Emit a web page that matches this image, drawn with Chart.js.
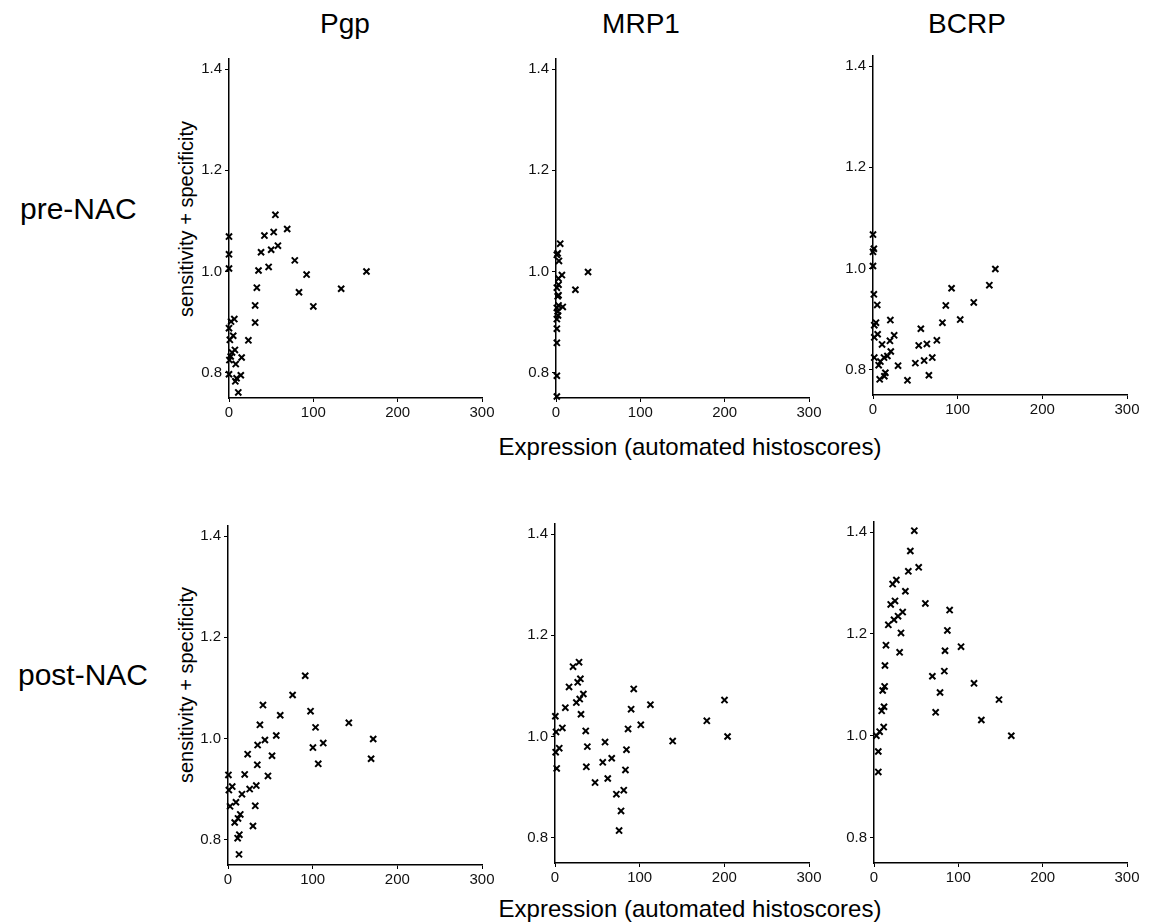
<!DOCTYPE html>
<html>
<head>
<meta charset="utf-8">
<title>Transporter expression vs sensitivity + specificity</title>
<script src="https://cdn.jsdelivr.net/npm/chart.js"></script>
<style>
  body { margin: 0; background: #fff; }
  #page { position: relative; width: 1156px; height: 924px; overflow: hidden;
          font-family: 'Liberation Sans', Arial, sans-serif; color: #000; }
  .txt { position: absolute; white-space: nowrap; line-height: 1; }
  .ctr { transform: translateX(-50%); }
  .rot { transform: translate(-50%, -50%) rotate(-90deg); }
  canvas { position: absolute; }
</style>
</head>
<body>
<div id="page">
  <div class="txt ctr" style="left:345px;top:10px;font-size:28px">Pgp</div>
  <div class="txt ctr" style="left:641px;top:10px;font-size:28px">MRP1</div>
  <div class="txt ctr" style="left:967px;top:10px;font-size:28px">BCRP</div>

  <div class="txt" style="left:20px;top:194px;font-size:30px">pre-NAC</div>
  <div class="txt" style="left:18px;top:660px;font-size:30px">post-NAC</div>

  <div class="txt rot" style="left:186px;top:219px;font-size:20px">sensitivity + specificity</div>
  <div class="txt rot" style="left:186px;top:685px;font-size:20px">sensitivity + specificity</div>

  <div class="txt ctr" style="left:690px;top:435px;font-size:24px">Expression (automated histoscores)</div>
  <div class="txt ctr" style="left:690px;top:897px;font-size:24px">Expression (automated histoscores)</div>
</div>

<script>
  // axes shared by all six panels
  const xTicks = [0, 100, 200, 300];
  const yTicks = [0.8, 1.0, 1.2, 1.4];
  const xMin = 0, xMax = 300;
  const yMin = 0.75, yMax = 1.42;

  // pre-NAC
  const prePgpX = [0, 0, 0, 0, 2.4, 6.3, 1, 5, 0.5, 2, 3.6, 7, 8, 15, 0, 14, 9, 7.5, 11, 23,
                   31, 31, 33, 35, 38, 42, 47, 50, 53, 55, 58, 69, 78, 83, 92, 100, 133, 163];
  const prePgpY = [1.069, 1.034, 1.006, 0.888, 0.901, 0.906, 0.865, 0.873, 0.825, 0.832, 0.840, 0.845,
                   0.817, 0.830, 0.797, 0.795, 0.789, 0.783, 0.761, 0.864, 0.899, 0.933, 0.968, 1.002,
                   1.038, 1.071, 1.009, 1.043, 1.078, 1.112, 1.051, 1.084, 1.022, 0.959, 0.994, 0.931,
                   0.966, 1.000];

  const preMrp1X = [1, 1, 1, 1, 1, 2.4, 2, 1, 3, 8, 2, 3, 1, 3, 3, 7, 3.5, 1, 2, 5, 23, 38];
  const preMrp1Y = [0.753, 0.794, 0.859, 0.887, 0.906, 0.913, 0.921, 0.928, 0.933, 0.930, 0.951,
                    0.953, 0.968, 0.974, 0.986, 0.993, 1.021, 1.033, 1.036, 1.055, 0.964, 0.999];

  const preBcrpX = [0, 1, 0, 0, 1, 5, 3.5, 1.5, 1.5, 5.5, 1.5, 10.7, 20.5, 20, 25, 21, 17, 13, 8.7, 6.7,
                    14.6, 13.4, 7.9, 29.6, 40.7, 50, 54, 56.5, 60.4, 63.6, 66, 70, 75.4, 82, 86, 92.8,
                    103, 119, 137.4, 144.5];
  const preBcrpY = [1.067, 1.039, 1.033, 1.005, 0.949, 0.928, 0.893, 0.888, 0.864, 0.870, 0.824, 0.850,
                    0.898, 0.857, 0.868, 0.836, 0.827, 0.824, 0.816, 0.809, 0.794, 0.787, 0.781, 0.808,
                    0.779, 0.813, 0.848, 0.881, 0.818, 0.851, 0.789, 0.824, 0.858, 0.893, 0.927, 0.961,
                    0.899, 0.933, 0.967, 0.999];

  // post-NAC
  const postPgpX = [0.5, 1, 5, 2.4, 9.4, 16.5, 7.9, 11.8, 14.5, 13.4, 11.4, 13, 19.7, 23.2, 25.6, 29.5,
                    32.2, 33.4, 34.6, 35, 37.7, 41.3, 43.6, 47.2, 52, 57, 61.7, 76.3, 91.2, 97.5, 100.3,
                    103.4, 106.6, 112.5, 142.7, 169, 171.5];
  const postPgpY = [0.928, 0.898, 0.905, 0.866, 0.874, 0.890, 0.834, 0.842, 0.850, 0.810, 0.803, 0.771,
                    0.929, 0.969, 0.900, 0.827, 0.867, 0.907, 0.948, 0.987, 1.027, 1.066, 0.997, 0.926,
                    0.966, 1.006, 1.046, 1.086, 1.124, 1.054, 0.982, 1.022, 0.950, 0.991, 1.031, 0.960,
                    0.999];

  const postMrp1X = [0.4, 1.2, 0.8, 2, 5, 8.7, 12.2, 16.6, 21.3, 28.4, 30, 26.8, 33.5, 29.2, 25.2, 30.7,
                     36.3, 38.2, 37, 47.3, 56.4, 59.1, 62.3, 67, 72.5, 81.2, 78, 75.7, 83.2, 84.4, 86.3,
                     89.9, 93, 101.3, 112.7, 139, 179.3, 200.2, 203.8];
  const postMrp1Y = [1.040, 1.009, 0.969, 0.937, 0.977, 1.017, 1.057, 1.098, 1.138, 1.147, 1.114, 1.107,
                     1.084, 1.074, 1.067, 1.044, 1.011, 0.980, 0.940, 0.909, 0.949, 0.989, 0.917, 0.957,
                     0.886, 0.894, 0.853, 0.814, 0.934, 0.974, 1.015, 1.054, 1.094, 1.023, 1.063, 0.991,
                     1.031, 1.072, 1.000];

  const postBcrpX = [2.8, 6.7, 5.1, 5.1, 9.1, 11.9, 11.5, 10.3, 12.6, 13, 14.2, 17, 19.8, 24.9, 22.1, 26.5,
                     23.7, 28.5, 34, 32, 30.4, 37.2, 40.7, 43.1, 47.8, 53, 60.9, 69.2, 78.3, 73.1, 83.4,
                     84.2, 87, 89.7, 103.2, 118.6, 127.3, 148.2, 162.8];
  const postBcrpY = [1.000, 1.008, 0.969, 0.929, 1.049, 1.057, 1.017, 1.089, 1.097, 1.138, 1.178, 1.218,
                     1.258, 1.265, 1.298, 1.306, 1.228, 1.235, 1.243, 1.202, 1.164, 1.284, 1.323, 1.363,
                     1.403, 1.331, 1.260, 1.117, 1.085, 1.046, 1.127, 1.167, 1.207, 1.247, 1.175, 1.103,
                     1.031, 1.071, 1.000];

  // where each plot area sits on the page: [left, right, top, bottom]
  const panels = [
    { x: prePgpX,   y: prePgpY,   area: [229, 482, 59, 398] },
    { x: preMrp1X,  y: preMrp1Y,  area: [556, 809, 59, 398] },
    { x: preBcrpX,  y: preBcrpY,  area: [873, 1127, 56, 395] },
    { x: postPgpX,  y: postPgpY,  area: [228, 482, 526, 865] },
    { x: postMrp1X, y: postMrp1Y, area: [555, 809, 524, 863] },
    { x: postBcrpX, y: postBcrpY, area: [874, 1127, 522, 863] }
  ];

  const AXIS_W = 60, AXIS_H = 34, PAD_T = 12, PAD_R = 26;
  Chart.defaults.font.family = "'Liberation Sans', Arial, sans-serif";

  const page = document.getElementById('page');

  panels.forEach(p => {
    const [l, r, t, b] = p.area;
    const c = document.createElement('canvas');
    c.width = AXIS_W + (r - l) + PAD_R;
    c.height = PAD_T + (b - t) + AXIS_H;
    c.style.left = (l - AXIS_W) + 'px';
    c.style.top = (t - PAD_T) + 'px';
    page.appendChild(c);

    const points = p.x.map((v, i) => ({ x: v, y: p.y[i] }));

    new Chart(c, {
      type: 'scatter',
      data: {
        datasets: [{
          data: points,
          pointStyle: 'crossRot',
          pointRadius: 4.3,
          pointBorderWidth: 2,
          borderColor: '#000',
          backgroundColor: '#000',
          clip: false
        }]
      },
      options: {
        responsive: false,
        animation: false,
        events: [],
        layout: { autoPadding: false, padding: { left: 0, top: PAD_T, right: PAD_R, bottom: 0 } },
        plugins: { legend: { display: false }, tooltip: { enabled: false } },
        scales: {
          x: {
            type: 'linear', min: xMin, max: xMax,
            afterBuildTicks: s => { s.ticks = xTicks.map(v => ({ value: v })); },
            afterFit: s => { s.height = AXIS_H; },
            grid: { drawOnChartArea: false, tickLength: 4, color: '#000', lineWidth: 1 },
            border: { color: '#000', width: 1.5 },
            ticks: { color: '#111', font: { size: 15 }, padding: 2, maxRotation: 0, autoSkip: false }
          },
          y: {
            type: 'linear', min: yMin, max: yMax,
            afterBuildTicks: s => { s.ticks = yTicks.map(v => ({ value: v })); },
            afterFit: s => { s.width = AXIS_W; },
            grid: { drawOnChartArea: false, tickLength: 4, color: '#000', lineWidth: 1 },
            border: { color: '#000', width: 1.5 },
            ticks: { color: '#111', font: { size: 15 }, padding: 3, autoSkip: false,
                     callback: v => v.toFixed(1) }
          }
        }
      }
    });
  });
</script>
</body>
</html>
